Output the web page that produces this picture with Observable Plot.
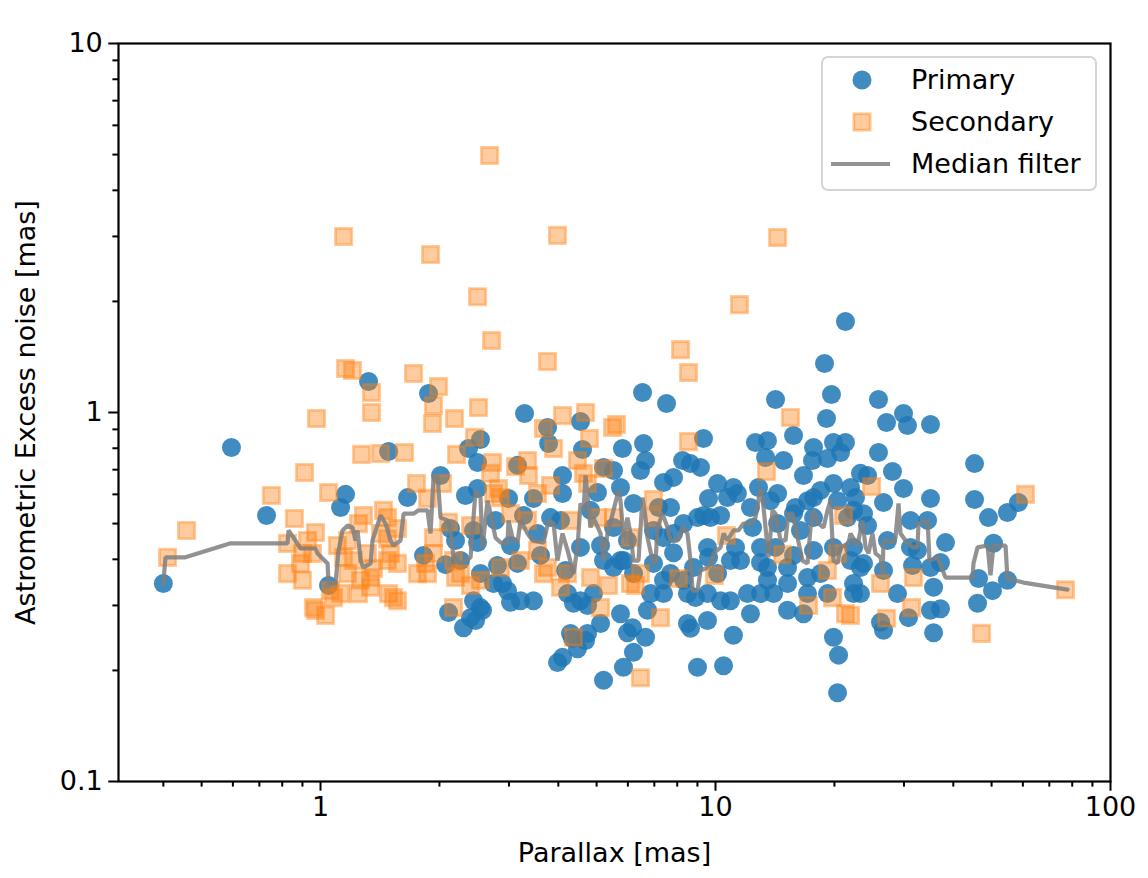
<!DOCTYPE html>
<html>
<head>
<meta charset="utf-8">
<script src="https://cdn.jsdelivr.net/npm/d3@7"></script>
<script src="https://cdn.jsdelivr.net/npm/@observablehq/plot@0.6"></script>
<style>
  html, body { margin: 0; padding: 0; background: white; }
  #chart { width: 1148px; height: 878px; }
</style>
</head>
<body>
<div id="chart"></div>
<script>
// ---- Data ----
const primaryParallax = [0.400,0.595,0.730,1.048,1.124,1.157,1.323,1.487,1.877,3.285,3.756,4.552,2.541,2.370,2.498,3.153,3.779,4.606,5.814,2.013,1.661,2.328,2.498,2.992,3.461,4.099,4.099,5.206,5.518,5.747,5.025,3.822,3.266,2.133,2.440,2.498,1.823,2.073,2.262,3.027,4.552,5.518,5.206,5.518,5.986,2.541,2.806,3.153,2.742,2.975,3.209,3.461,2.440,2.541,2.398,2.301,2.109,4.221,4.552,4.910,5.116,5.747,4.295,4.742,2.469,2.571,3.027,2.889,4.370,4.742,4.345,4.688,4.473,4.099,3.981,5.206,5.986,5.848,18.88,6.535,7.516,14.19,19.66,19.10,15.76,9.324,12.62,13.54,17.71,19.89,21.33,6.573,6.650,6.457,8.253,8.644,9.162,13.39,14.87,16.70,17.60,19.21,20.73,23.28,7.386,7.830,10.12,11.10,9.601,10.72,12.85,13.78,15.94,17.71,19.89,21.97,22.62,6.200,7.692,8.299,9.324,10.30,12.41,14.36,16.41,17.71,21.58,23.70,6.966,7.830,7.386,9.601,11.24,13.00,14.19,15.76,17.71,22.36,23.70,5.848,6.200,6.966,7.386,8.299,8.901,10.12,10.30,10.91,13.54,12.26,15.22,15.22,16.70,22.36,23.28,6.727,8.492,9.544,6.164,6.650,11.10,19.89,6.200,8.644,9.003,10.48,20.49,20.37,25.86,29.92,27.10,30.62,35.02,25.86,45.27,28.06,24.26,29.92,35.02,45.27,49.10,54.83,58.48,26.63,31.16,34.42,38.22,50.56,22.36,24.26,27.25,31.16,32.46,37.12,35.02,23.28,26.63,31.53,35.65,28.89,46.33,50.26,54.83,46.07,30.80,26.17,26.63,35.02,37.12,35.65,21.33,
  7.173,7.830,9.003,9.71,11.36,12.26,9.544,10.91,11.57,13.00,13.54,15.22,17.10,18.45,19.89,21.97,22.36,17.10,18.45,20.37,15.76,14.36,8.80,7.692,6.85,7.386,8.492,9.544,12.05,13.00,14.03,17.10,19.21,3.542,4.052,4.826,5.116,5.747,3.606,4.173,2.773,2.197];
const primaryNoise = [0.344,0.804,0.526,0.340,0.553,0.600,1.213,0.784,1.126,0.994,0.911,0.945,0.845,0.799,0.732,0.719,0.824,0.794,0.799,0.675,0.588,0.596,0.622,0.585,0.585,0.675,0.603,0.710,0.696,0.626,0.607,0.519,0.526,0.485,0.479,0.444,0.410,0.387,0.397,0.436,0.431,0.488,0.397,0.380,0.450,0.366,0.385,0.390,0.344,0.329,0.309,0.309,0.309,0.296,0.278,0.261,0.287,0.323,0.309,0.323,0.268,0.285,0.252,0.252,0.273,0.291,0.306,0.344,0.304,0.300,0.244,0.241,0.229,0.217,0.210,0.188,0.253,0.204,1.358,1.133,1.058,1.084,1.119,0.963,0.866,0.850,0.829,0.839,0.804,0.829,0.829,0.824,0.741,0.696,0.741,0.727,0.710,0.755,0.741,0.675,0.741,0.750,0.779,0.684,0.646,0.667,0.642,0.626,0.585,0.588,0.626,0.577,0.553,0.588,0.642,0.626,0.588,0.567,0.553,0.500,0.526,0.526,0.488,0.500,0.479,0.519,0.519,0.532,0.479,0.417,0.458,0.405,0.431,0.392,0.431,0.410,0.423,0.431,0.390,0.397,0.366,0.390,0.351,0.351,0.315,0.366,0.309,0.309,0.351,0.285,0.344,0.291,0.285,0.344,0.323,0.291,0.268,0.273,0.261,0.246,0.249,0.246,0.224,0.260,0.204,0.206,0.220,0.174,1.084,0.994,0.940,0.922,0.928,0.779,0.727,0.692,0.675,0.622,0.585,0.581,0.519,0.536,0.570,0.570,0.510,0.510,0.444,0.442,0.543,0.494,0.450,0.431,0.423,0.392,0.380,0.380,0.373,0.385,0.336,0.323,0.355,0.329,0.351,0.304,0.278,0.270,0.257,0.291,0.294,0.253,1.765,
  0.553,0.470,0.519,0.519,0.603,0.553,0.431,0.397,0.397,0.431,0.380,0.380,0.357,0.366,0.431,0.397,0.323,0.577,0.615,0.577,0.532,0.603,0.380,0.366,0.323,0.323,0.323,0.323,0.323,0.323,0.323,0.323,0.323,0.470,0.510,0.543,0.436,0.397,0.410,0.373,0.510,0.450];

const secondaryParallax = [2.679,1.144,3.981,14.36,1.899,2.498,11.50,2.710,8.157,3.756,8.543,1.157,1.205,1.720,1.990,1.346,1.346,0.977,15.48,4.099,4.688,5.615,5.486,1.932,1.921,2.512,2.455,3.670,3.890,8.543,13.46,1.270,1.419,1.632,2.184,4.797,2.210,2.726,2.694,3.117,3.343,3.363,4.473,4.633,5.206,4.742,1.750,2.036,2.822,2.742,2.856,3.542,3.822,1.866,2.109,2.398,3.027,3.343,4.295,5.025,5.518,1.478,1.566,1.419,1.504,1.566,1.530,1.566,1.760,1.844,1.932,1.932,2.171,2.262,2.398,2.541,2.856,3.209,3.542,3.756,3.670,4.052,4.221,4.826,5.360,5.116,4.370,2.171,1.866,2.197,6.092,6.966,6.926,6.092,6.457,6.274,8.06,9.94,10.66,14.78,17.20,19.21,20.37,19.78,21.09,21.33,21.97,7.258,24.83,6.457,60.92,26.17,31.71,31.34,27.10,47.15,76.9,0.911,0.751,1.048,0.859,0.458,0.410,0.825,0.927,0.971,0.900,0.954,0.825,0.900,0.971,1.030,0.890,1.104,1.171,1.285,1.248,1.444,1.478,1.144,1.212,1.315,1.362,1.171,1.263,1.339,1.060,1.124,1.248,1.339,1.478,1.487,1.079,0.960];
const secondaryNoise = [4.97,3.00,3.02,2.98,2.68,2.06,1.96,1.567,1.48,1.375,1.283,1.316,1.30,1.276,1.176,1.133,1.0,0.963,0.969,0.981,1.0,0.928,0.911,1.045,0.934,1.032,0.856,0.905,0.799,0.834,0.692,0.770,0.774,0.779,0.963,0.850,0.770,0.732,0.684,0.714,0.741,0.675,0.741,0.684,0.705,0.642,0.642,0.642,0.622,0.603,0.588,0.603,0.634,0.585,0.504,0.494,0.532,0.510,0.510,0.519,0.519,0.519,0.485,0.470,0.415,0.390,0.315,0.309,0.366,0.390,0.415,0.458,0.397,0.366,0.340,0.351,0.380,0.397,0.423,0.380,0.366,0.336,0.366,0.357,0.340,0.296,0.246,0.296,0.366,0.357,0.344,0.581,0.519,0.458,0.366,0.340,0.355,0.362,0.464,0.412,0.300,0.373,0.415,0.315,0.526,0.285,0.282,0.278,0.630,0.191,0.600,0.344,0.357,0.296,0.277,0.252,0.331,0.688,0.596,0.607,0.516,0.479,0.405,0.442,0.450,0.473,0.415,0.415,0.366,0.351,0.291,0.282,0.390,0.436,0.450,0.526,0.500,0.543,0.455,0.405,0.397,0.415,0.378,0.366,0.351,0.357,0.329,0.323,0.323,0.336,0.397,0.323,0.315,0.296];

const medianParallax = [0.400,0.405,0.455,0.592,0.825,0.830,0.854,0.890,0.971,0.983,1.042,1.048,1.091,1.111,1.137,1.171,1.205,1.226,1.241,1.263,1.285,1.339,1.354,1.419,1.461,1.504,1.530,1.594,1.623,1.720,1.770,1.866,1.899,1.932,1.978,2.013,2.097,2.133,2.171,2.262,2.398,2.469,2.541,2.571,2.648,2.694,2.773,2.856,2.975,2.992,3.063,3.153,3.209,3.343,3.441,3.670,3.779,3.890,3.981,4.099,4.221,4.370,4.473,4.552,4.633,4.688,4.826,4.910,5.116,5.206,5.328,5.518,5.680,5.747,5.848,5.986,6.092,6.200,6.383,6.535,6.650,6.727,6.926,7.047,7.130,7.342,7.560,7.692,8.015,8.253,8.492,8.644,8.746,9.003,9.162,9.544,9.827,9.885,10.30,10.48,10.72,11.10,11.43,11.77,12.26,12.62,13.00,13.23,13.62,13.94,14.19,14.61,15.04,15.30,15.67,16.13,16.60,17.10,17.40,17.71,18.23,18.77,19.21,19.55,19.89,20.37,20.73,21.71,21.97,22.88,23.56,23.98,24.40,24.97,25.41,26.17,26.48,26.63,27.25,28.06,28.56,29.06,29.40,30.27,31.53,32.46,32.66,34.42,34.82,36.48,38.22,44.74,44.99,46.07,48.83,49.68,50.56,54.24,54.83,60.21,77.8];
const medianNoise = [0.344,0.405,0.405,0.442,0.442,0.479,0.458,0.428,0.428,0.415,0.390,0.344,0.344,0.423,0.479,0.494,0.488,0.450,0.479,0.397,0.380,0.390,0.450,0.526,0.500,0.450,0.436,0.450,0.532,0.532,0.543,0.543,0.470,0.667,0.675,0.519,0.510,0.479,0.405,0.390,0.405,0.615,0.588,0.431,0.577,0.532,0.458,0.444,0.442,0.510,0.458,0.444,0.510,0.470,0.450,0.444,0.510,0.500,0.397,0.470,0.423,0.366,0.431,0.567,0.543,0.675,0.488,0.519,0.470,0.397,0.470,0.543,0.615,0.577,0.458,0.519,0.470,0.397,0.397,0.588,0.519,0.458,0.397,0.390,0.488,0.532,0.488,0.450,0.450,0.488,0.470,0.397,0.329,0.329,0.373,0.380,0.397,0.415,0.431,0.470,0.450,0.479,0.479,0.500,0.500,0.519,0.626,0.553,0.405,0.543,0.532,0.450,0.450,0.532,0.532,0.458,0.397,0.390,0.488,0.543,0.500,0.488,0.543,0.577,0.397,0.390,0.431,0.442,0.470,0.436,0.510,0.431,0.415,0.470,0.415,0.405,0.366,0.450,0.450,0.444,0.458,0.567,0.470,0.450,0.431,0.431,0.500,0.510,0.397,0.405,0.357,0.357,0.390,0.431,0.436,0.362,0.436,0.436,0.355,0.346,0.331];

const xMajorTicks = [1, 10, 100];
const xMinorTicks = [0.4,0.5,0.6,0.7,0.8,0.9,2,3,4,5,6,7,8,9,20,30,40,50,60,70,80,90];
const yMajorTicks = [0.1, 1, 10];
const yMinorTicks = [0.2,0.3,0.4,0.5,0.6,0.7,0.8,0.9,2,3,4,5,6,7,8,9];

const legendItems = ["Primary", "Secondary", "Median filter"];

const primary = primaryParallax.map((p, i) => ({parallax: p, noise: primaryNoise[i]}));
const secondary = secondaryParallax.map((p, i) => ({parallax: p, noise: secondaryNoise[i]}));
const median = medianParallax.map((p, i) => ({parallax: p, noise: medianNoise[i]}));

const FONT = "DejaVu Sans";
const plot = Plot.plot({
  width: 1148,
  height: 878,
  marginLeft: 118,
  marginRight: 38,
  marginTop: 43,
  marginBottom: 97,
  style: {fontFamily: FONT, fontSize: "27px", background: "white", color: "black", overflow: "visible"},
  x: {type: "log", domain: [0.308, 100]},
  y: {type: "log", domain: [0.1, 10]},
  marks: [
    Plot.dot(primary, {x: "parallax", y: "noise", r: 9.5, fill: "#1f77b4", fillOpacity: 0.85, stroke: null}),
    Plot.dot(secondary, {x: "parallax", y: "noise", symbol: "square", r: 9.2, fill: "#ff7f0e", fillOpacity: 0.4, stroke: "#ff7f0e", strokeOpacity: 0.4, strokeWidth: 2.8}),
    Plot.line(median, {x: "parallax", y: "noise", stroke: "#7f7f7f", strokeOpacity: 0.85, strokeWidth: 4.2, strokeLinejoin: "miter"}),
    Plot.axisX(xMinorTicks, {tickSize: 5.6, strokeWidth: 2, tickFormat: () => "", label: null}),
    Plot.axisY(yMinorTicks, {tickSize: 5.6, strokeWidth: 2, tickFormat: () => "", label: null}),
    Plot.axisX(xMajorTicks, {tickSize: 9.7, tickPadding: 6, strokeWidth: 2, tickFormat: d => String(d),
      label: "Parallax [mas]", labelAnchor: "center", labelArrow: "none", labelOffset: 80, fontSize: 27}),
    Plot.axisY(yMajorTicks, {tickSize: 9.7, tickPadding: 6, strokeWidth: 2, tickFormat: d => String(d),
      label: "Astrometric Excess noise [mas]", labelAnchor: "center", labelArrow: "none", labelOffset: 103, fontSize: 27}),
    Plot.frame({stroke: "black", strokeWidth: 2.2})
  ]
});

// Legend inside the axes (upper right), drawn as real SVG text
const svg = d3.select(plot);
const lg = svg.append("g").attr("font-family", FONT).attr("font-size", 27).attr("text-anchor", "start");
lg.append("rect").attr("x", 822).attr("y", 57).attr("width", 274).attr("height", 133)
  .attr("rx", 6).attr("fill", "white").attr("fill-opacity", 0.8).attr("stroke", "#d5d5d5").attr("stroke-width", 2);
const rowY = [80, 122, 164];
lg.append("circle").attr("cx", 862).attr("cy", rowY[0]).attr("r", 9.5).attr("fill", "#1f77b4").attr("fill-opacity", 0.85);
lg.append("rect").attr("x", 862 - 8.2).attr("y", rowY[1] - 8.2).attr("width", 16.4).attr("height", 16.4)
  .attr("fill", "#ff7f0e").attr("fill-opacity", 0.4).attr("stroke", "#ff7f0e").attr("stroke-opacity", 0.4).attr("stroke-width", 2.8);
lg.append("line").attr("x1", 831).attr("x2", 890).attr("y1", rowY[2]).attr("y2", rowY[2])
  .attr("stroke", "#7f7f7f").attr("stroke-opacity", 0.85).attr("stroke-width", 4.2);
legendItems.forEach((t, i) => {
  lg.append("text").attr("x", 911).attr("y", rowY[i]).attr("dy", "0.35em").attr("text-anchor", "start").attr("fill", "black").text(t);
});

document.getElementById("chart").appendChild(plot);
</script>
</body>
</html>
